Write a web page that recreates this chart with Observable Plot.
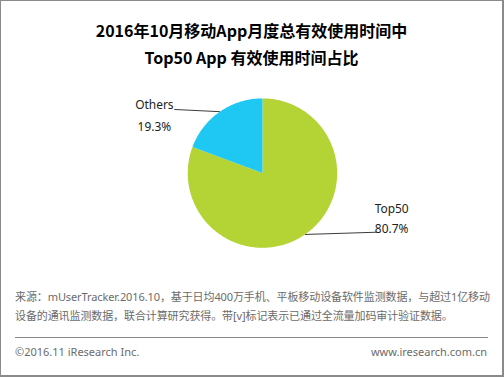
<!DOCTYPE html>
<html>
<head>
<meta charset="utf-8">
<script src="https://cdn.jsdelivr.net/npm/d3@7"></script>
<script src="https://cdn.jsdelivr.net/npm/@observablehq/plot@0.6"></script>
<style>
  html, body { margin: 0; padding: 0; background: #fff; }
  #frame {
    position: relative; width: 504px; height: 377px; box-sizing: border-box;
    border-style: solid; border-color: #8a8a8a; border-width: 1px 2px 2px 1px;
    font-family: "Noto Sans", "Noto Sans CJK SC", sans-serif; overflow: hidden;
  }
  .title {
    position: absolute; left: 0; width: 100%; text-align: center;
    font-family: "Noto Sans CJK SC", sans-serif; font-weight: bold; font-size: 16px;
    color: #000; line-height: 20px;
  }
  #chart { position: absolute; left: -1px; top: 69px; }
  .src {
    position: absolute; left: 14px; font-size: 11px; color: #6b6b6b; line-height: 14px;
    white-space: nowrap; letter-spacing: -0.1px;
  }
  #rule { position: absolute; left: 14px; width: 473px; top: 336px; border-top: 1px solid #8a8a8a; }
  .foot { position: absolute; top: 344px; font-size: 11px; color: #6b6b6b; line-height: 14px; white-space: nowrap; }
</style>
</head>
<body>
<div id="frame">
  <div class="title" style="top:19px">2016年10月移动App月度总有效使用时间中</div>
  <div class="title" style="top:46px">Top50 App 有效使用时间占比</div>
  <div id="chart"></div>
  <div class="src" style="top:289px">来源：mUserTracker.2016.10，基于日均400万手机、平板移动设备软件监测数据，与超过1亿移动</div>
  <div class="src" style="top:308px">设备的通讯监测数据，联合计算研究获得。带[v]标记表示已通过全流量加码审计验证数据。</div>
  <div id="rule"></div>
  <div class="foot" style="left:14px">©2016.11 iResearch Inc.</div>
  <div class="foot" style="right:15px">www.iresearch.com.cn</div>
</div>
<script>
const categories = ["Top50", "Others"];
const shares = [80.7, 19.3];
const colors = ["#b4d334", "#1fc8f2"];

const arcs = d3.pie().sort(null).value(d => d)(shares);

// polygon points of each slice, derived from the pie angles
const slicePts = [];
arcs.forEach((a, i) => {
  slicePts.push({k: categories[i], x: 0, y: 0});
  const n = Math.max(2, Math.ceil((a.endAngle - a.startAngle) / (Math.PI / 180)));
  for (let j = 0; j <= n; j++) {
    const t = a.startAngle + (a.endAngle - a.startAngle) * j / n;
    slicePts.push({k: categories[i], x: Math.sin(t), y: Math.cos(t)});
  }
  slicePts.push({k: categories[i], x: 0, y: 0});
});

const leaders = arcs.map((a, i) => {
  const m = (a.startAngle + a.endAngle) / 2;
  const ex = Math.sin(m), ey = Math.cos(m);
  const side = ex < 0 ? -1 : 1;
  const len = side < 0 ? 0.61 : 0.96;
  return {k: categories[i], v: shares[i].toFixed(1) + "%", side, x1: ex, y1: ey, x2: ex + side * len, y2: ey + 0.03};
});
const leftL = leaders.filter(d => d.side < 0);
const rightL = leaders.filter(d => d.side > 0);

const txt = (data, field, dx, dy) => Plot.text(data, {
  x: "x2", y: "y2", text: field, dx, dy, fontSize: 12, fill: "#222", textAnchor: "middle"
});

const chart = Plot.plot({
  width: 504,
  height: 210,
  margin: 0,
  style: {fontFamily: '"Noto Sans", sans-serif', background: "transparent", overflow: "visible"},
  x: {domain: [-1, 1], range: [188, 338], axis: null},
  y: {domain: [-1, 1], range: [178, 28], axis: null},
  color: {domain: categories, range: colors},
  marks: [
    Plot.line(slicePts, {x: "x", y: "y", z: "k", fill: "k", stroke: "none", curve: "linear"}),
    Plot.link(leaders, {x1: "x1", y1: "y1", x2: "x2", y2: "y2", stroke: "#3a3a3a", strokeWidth: 1}),
    txt(leftL, "k", -20, -4),
    txt(leftL, "v", -20, 18),
    txt(rightL, "k", 15, -23),
    txt(rightL, "v", 15, -3)
  ]
});
document.getElementById("chart").append(chart);
</script>
</body>
</html>
